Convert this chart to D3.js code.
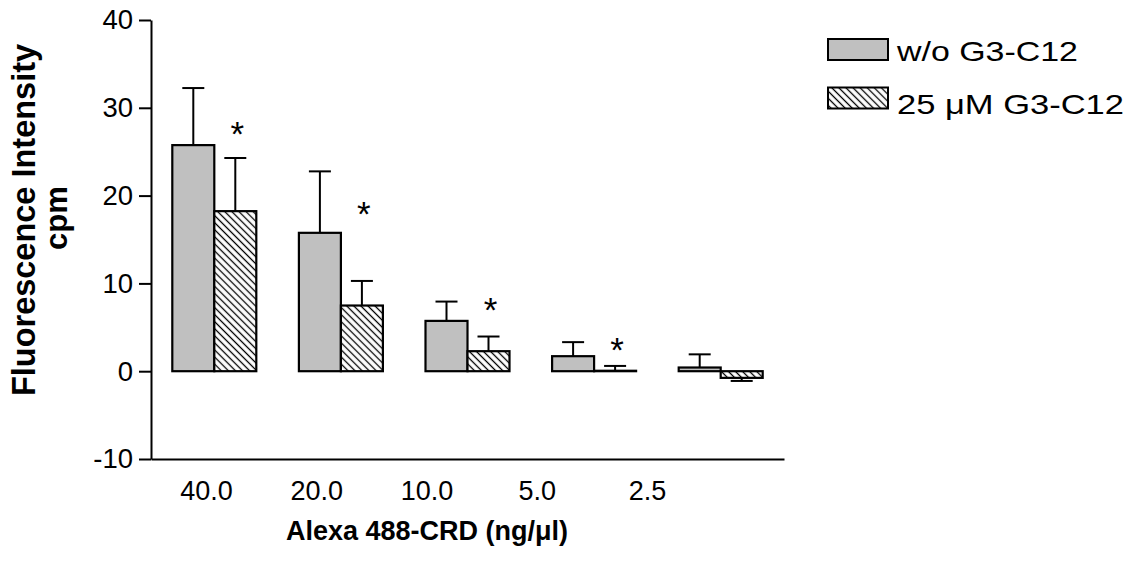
<!DOCTYPE html>
<html>
<head>
<meta charset="utf-8">
<script src="https://cdn.jsdelivr.net/npm/d3@7"></script>
<style>
  html, body { margin: 0; padding: 0; background: #fff; }
  svg { display: block; font-family: "Liberation Sans", Arial, Helvetica, sans-serif; }
</style>
</head>
<body>
<script>
// ---- data ----
const categories = ["40.0", "20.0", "10.0", "5.0", "2.5"];
const seriesNames = ["w/o G3-C12", "25 μM G3-C12"];
const withoutMean = [25.75, 15.76, 5.73, 1.71, 0.42];
const withoutSem  = [6.5, 7.0, 2.2, 1.6, 1.5];
const withMean    = [18.23, 7.48, 2.28, 0.05, -0.76];
const withSem     = [6.05, 2.8, 1.67, 0.55, 0.35];
const asteriskAt  = [27.9, 18.8, 7.9, 3.3, null];
const yTicks      = [-10, 0, 10, 20, 30, 40];

const W = 1141, H = 561;
const FONT = "'Liberation Sans', Arial, sans-serif";
const svg = d3.select("body").append("svg").attr("width", W).attr("height", H);

const defs = svg.append("defs");
const pat = defs.append("pattern")
  .attr("id", "hatch").attr("patternUnits", "userSpaceOnUse")
  .attr("width", 5).attr("height", 5)
  .attr("patternTransform", "rotate(-45)");
pat.append("rect").attr("width", 5).attr("height", 5).attr("fill", "#fff");
pat.append("line").attr("x1", 2.5).attr("x2", 2.5).attr("y1", -1).attr("y2", 6)
  .attr("stroke", "#000").attr("stroke-width", 1.3);

const y = d3.scaleLinear().domain([-10, 40]).range([459, 20]);
const x0 = d3.scaleBand().domain(categories).range([151, 784])
  .paddingInner(0.3365).paddingOuter(0.16825);
const x1 = d3.scaleBand().domain([0, 1]).range([0, x0.bandwidth()]);
const xl = d3.scalePoint().domain(categories).range([206, 647]);

const fills = ["#c0c0c0", "url(#hatch)"];
const rows = categories.map((c, i) => ({
  cat: c,
  vals: [
    { s: 0, v: withoutMean[i], e: withoutSem[i] },
    { s: 1, v: withMean[i], e: withSem[i] }
  ]
}));

// y axis
const yAxis = svg.append("g").attr("transform", "translate(151,0)")
  .call(d3.axisLeft(y).tickValues(yTicks).tickFormat(d => String(d))
    .tickSize(12).tickSizeOuter(0).tickPadding(6));
yAxis.selectAll("path, line").attr("stroke", "#000").attr("stroke-width", 2);
yAxis.selectAll("text").attr("font-size", 27.5).attr("fill", "#000").attr("font-family", FONT);

// x axis line
const xAxis = svg.append("g").attr("transform", `translate(0,${y(-10)})`)
  .call(d3.axisBottom(x0).tickSize(0).tickSizeOuter(0).tickFormat(""));
xAxis.select("path").attr("stroke", "#000").attr("stroke-width", 2);
xAxis.selectAll(".tick").remove();

// x labels
const xLab = svg.append("g").attr("transform", `translate(0,${y(-10)})`)
  .call(d3.axisBottom(xl).tickSize(0).tickPadding(22));
xLab.select("path").remove();
xLab.selectAll("text").attr("font-size", 27).attr("fill", "#000").attr("font-family", FONT);

// bars
const g = svg.selectAll(".grp").data(rows).join("g")
  .attr("class", "grp").attr("transform", d => `translate(${x0(d.cat)},0)`);

// error bars
g.selectAll(".err").data(d => d.vals).join("g").attr("class", "err")
  .each(function(d) {
    const cx = x1(d.s) + x1.bandwidth() / 2;
    const sign = d.v >= 0 ? 1 : -1;
    const yEnd = y(d.v + sign * d.e);
    const sel = d3.select(this);
    sel.append("line").attr("x1", cx).attr("x2", cx)
      .attr("y1", y(d.v)).attr("y2", yEnd)
      .attr("stroke", "#000").attr("stroke-width", 2);
    sel.append("line").attr("x1", cx - 11).attr("x2", cx + 11)
      .attr("y1", yEnd).attr("y2", yEnd)
      .attr("stroke", "#000").attr("stroke-width", 2);
  });

g.selectAll("rect").data(d => d.vals).join("rect")
  .attr("x", d => x1(d.s))
  .attr("width", x1.bandwidth())
  .attr("y", d => Math.min(y(d.v), y(0)))
  .attr("height", d => Math.abs(y(d.v) - y(0)))
  .attr("fill", d => fills[d.s])
  .attr("stroke", "#000").attr("stroke-width", 2.2);

// asterisks
svg.selectAll(".ast").data(categories.map((c, i) => ({ c, v: asteriskAt[i] })).filter(d => d.v != null))
  .join("text").attr("class", "ast")
  .attr("x", d => x0(d.c) + x1(1) + x1.bandwidth() / 2 + 2)
  .attr("y", d => y(d.v) + 20)
  .attr("text-anchor", "middle").attr("font-size", 35).attr("fill", "#000")
  .text("*");

// axis titles
svg.append("text")
  .attr("x", 427).attr("y", 540)
  .attr("text-anchor", "middle").attr("font-size", 27).attr("font-weight", "bold")
  .text("Alexa 488-CRD (ng/μl)");

const yt = svg.append("g").attr("transform", "translate(0,220) rotate(-90)");
yt.append("text").attr("x", 0).attr("y", 35)
  .attr("text-anchor", "middle").attr("font-size", 32.5).attr("font-weight", "bold")
  .text("Fluorescence Intensity");
yt.append("text").attr("x", 2).attr("y", 67)
  .attr("text-anchor", "middle").attr("font-size", 31).attr("font-weight", "bold")
  .text("cpm");

// legend
const leg = svg.selectAll(".leg").data(seriesNames).join("g").attr("class", "leg")
  .attr("transform", (d, i) => `translate(828,${39 + i * 48.5})`);
leg.append("rect").attr("width", 60).attr("height", 21)
  .attr("fill", (d, i) => fills[i]).attr("stroke", "#000").attr("stroke-width", 2);
leg.append("text").attr("x", 69).attr("y", (d, i) => 22 + i * 4.5)
  .attr("font-size", 28).attr("fill", "#000")
  .attr("textLength", (d, i) => [181, 227][i]).attr("lengthAdjust", "spacingAndGlyphs")
  .text(d => d);
</script>
</body>
</html>
